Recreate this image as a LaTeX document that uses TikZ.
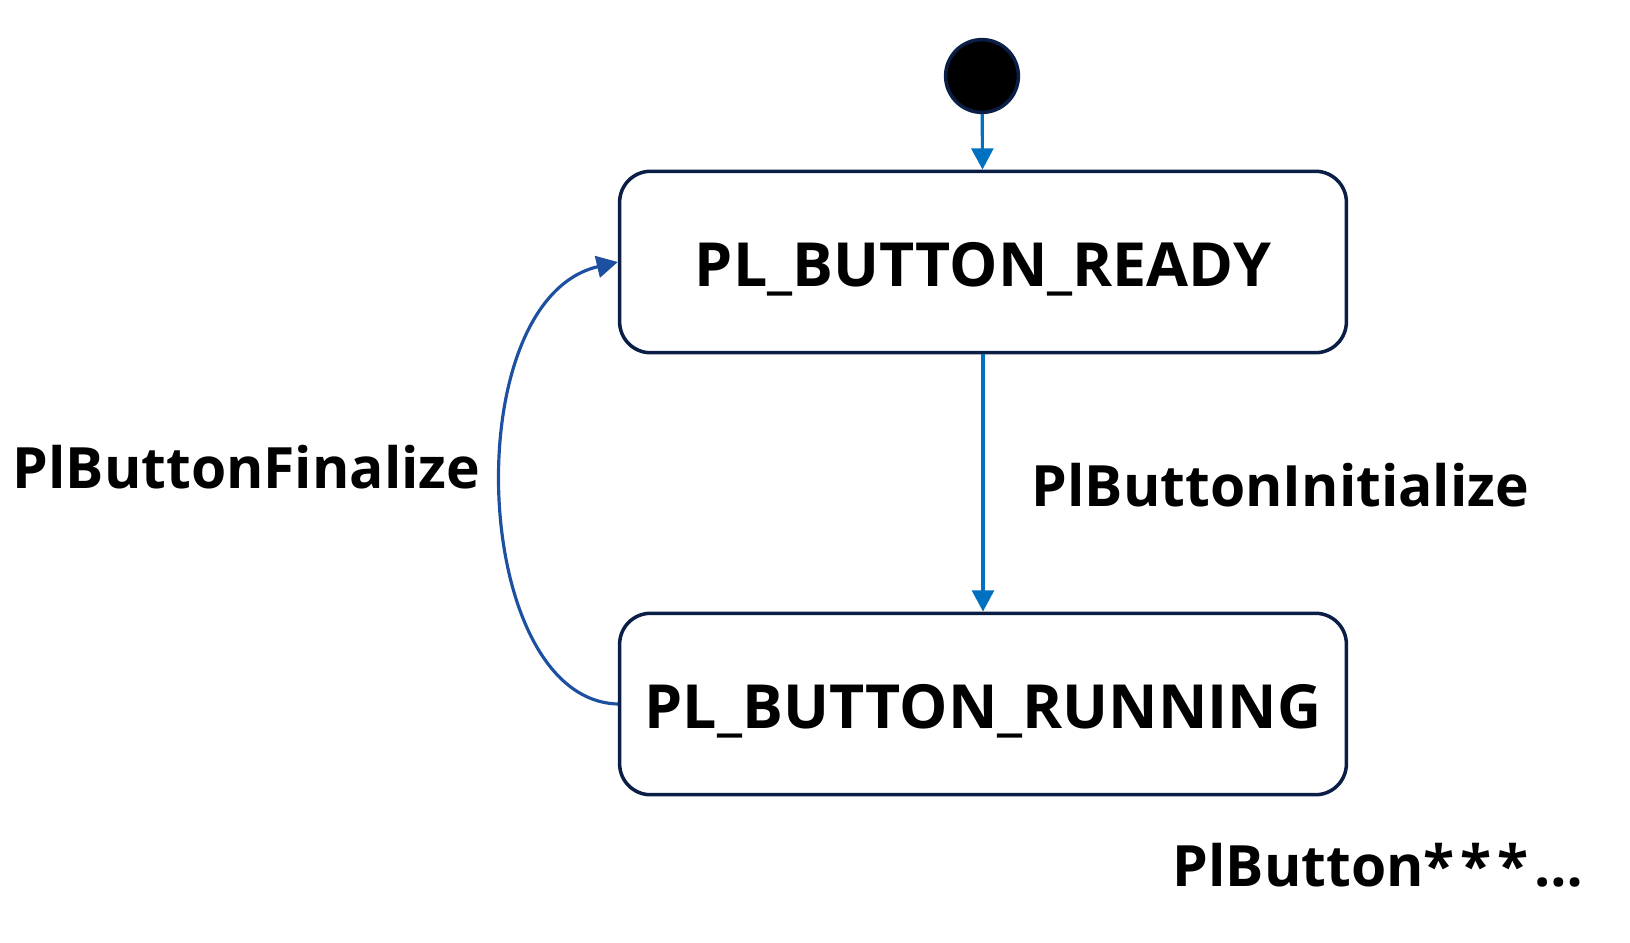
\documentclass[tikz,border=0pt]{standalone}
\usepackage{fontspec}
\setmainfont{Open Sans}
\usetikzlibrary{arrows.meta}
\definecolor{navy}{HTML}{0B1E45}
\definecolor{arrowblue}{HTML}{0070C0}
\definecolor{curveblue}{HTML}{1E50A2}
\tikzset{
  statebox/.style={draw=navy, line width=1pt, rounded corners=8.8pt, minimum width=729*0.2835pt, minimum height=182*0.2835pt, inner sep=0pt, font=\fontsize{17.3}{20}\selectfont\bfseries},
  lbl/.style={font=\fontsize{16.2}{20}\selectfont\bfseries, inner sep=0pt},
  flow/.style={draw=arrowblue, line width=0.9pt, -{Triangle[length=6pt,width=6.2pt]}},
  back/.style={draw=curveblue, line width=0.9pt, -{Triangle[length=6pt,width=6.2pt]}},
}
\begin{document}
\begin{tikzpicture}[x=0.01cm,y=-0.01cm]
\useasboundingbox (0,0) rectangle (1630,942);
\node[circle, fill=black, draw=navy, line width=1pt, minimum size=73*0.2835pt, inner sep=0pt] (init) at (982,76) {};
\node[statebox] (ready) at (983,262) {\raisebox{-2.1pt}[\height][\depth]{PL\_BUTTON\_READY}};
\node[statebox] (running) at (983,704) {\raisebox{-2.2pt}[\height][\depth]{PL\_BUTTON\_RUNNING}};
\node[lbl, anchor=west] (fin) at (12,467) {PlButtonFinalize};
\node[lbl, anchor=west] (ini) at (1031,485) {PlButtonInitialize};
\node[lbl, anchor=west] (etc) at (1172,865) {PlButton*\kern1.7pt*\kern1.7pt*\kern1.7pt…};
\draw[flow] (init) -- (ready);
\draw[flow] (ready) -- (running);
\draw[back] (running.west) .. controls (470,700) and (455,300) .. (ready.west);
\end{tikzpicture}
\end{document}
